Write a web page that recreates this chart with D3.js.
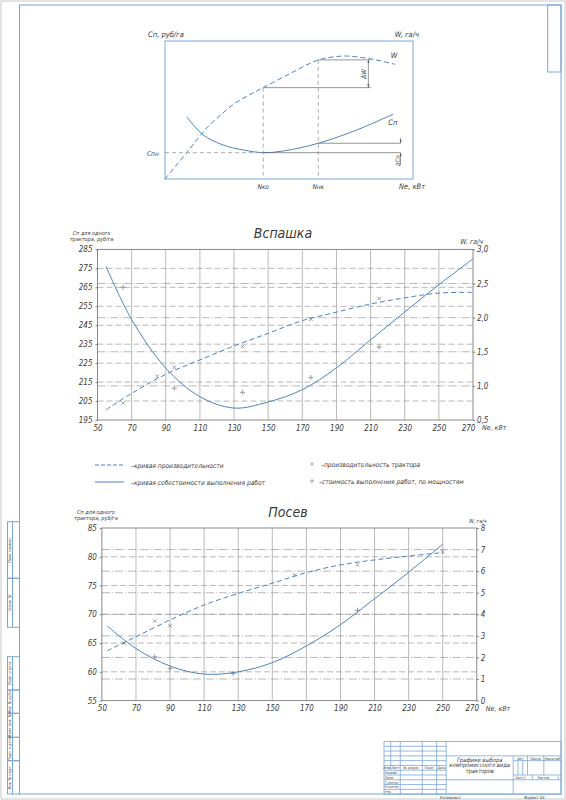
<!DOCTYPE html>
<html>
<head>
<meta charset="utf-8">
<script src="https://cdn.jsdelivr.net/npm/d3@7"></script>
<style>
    body { margin: 0; background: #fff; }
    text { font-family: "DejaVu Sans Condensed", "DejaVu Sans", sans-serif; font-style: italic; fill: #3a3a3a; }
</style>
</head>
<body>
<svg id="sheet" width="566" height="800"></svg>
<script>
// ---- data ----
// schematic (top): abstract units 0..100
const schemeWx = [0, 8.75, 16.8, 22.2, 27.5, 33.5, 39.6, 50.4, 61.8, 67.7, 73.3, 84, 92.7];
const schemeW = [0, 19.1, 37, 46, 54, 60.5, 66.2, 76.4, 86.3, 88.4, 89.1, 86.7, 83.1];
const schemeCx = [8.75, 15.4, 23.5, 31.6, 39.6, 47.7, 61.8, 77.3, 92.1];
const schemeC = [45.1, 31.9, 24.6, 21, 19.1, 20.3, 25.9, 35.5, 47.1];
const schemeNko = 39.6;
const schemeNnk = 61.8;

// Вспашка
const ploughN = [55, 70, 90, 110, 130, 150, 170, 190, 210, 230, 250, 270];
const ploughCost = [276, 248, 222.4, 207.3, 201.3, 204.5, 211, 222.5, 237.3, 252, 266.4, 280];
const ploughW = [0.65, 0.89, 1.17, 1.38, 1.585, 1.77, 1.956, 2.08, 2.2, 2.29, 2.36, 2.37];
const ploughPtsN = [65, 85, 95, 135, 175, 215];
const ploughPtsW = [0.75, 1.14, 1.27, 1.575, 1.976, 2.28];
const ploughCostPtsN = [65, 95, 135, 175, 215];
const ploughCostPts = [265, 211.8, 209.6, 217.4, 233.5];
const ploughCostTicks = [195, 205, 215, 225, 235, 245, 255, 265, 275, 285];
const ploughWTicks = [0.5, 1.0, 1.5, 2.0, 2.5, 3.0];

// Посев
const sowN = [53, 70, 90, 110, 130, 150, 170, 190, 210, 230, 250];
const sowCost = [68, 64.05, 61.0, 59.6, 60.0, 61.6, 64.5, 68.2, 72.7, 77.3, 82.2];
const sowW = [2.31, 2.96, 3.74, 4.43, 4.97, 5.44, 5.93, 6.29, 6.52, 6.70, 6.86];
const sowPtsN = [63, 81, 90, 163, 200, 250];
const sowPtsW = [2.66, 3.69, 3.47, 5.82, 6.29, 6.9];
const sowCostPtsN = [81, 90, 127, 200];
const sowCostPts = [62.6, 60.6, 59.7, 70.7];
const sowCostTicks = [55, 60, 65, 70, 75, 80, 85];
const sowWTicks = [0, 1, 2, 3, 4, 5, 6, 7, 8];

const nTicks = [50, 70, 90, 110, 130, 150, 170, 190, 210, 230, 250, 270];

// ---- styles ----
const frameColor = '#7aa6d6';
const curveColor = '#4f83bd';
const gridColor = '#9a9a9a';

const svg = d3.select('#sheet');

svg.append('defs').append('marker')
    .attr('id', 'arr')
    .attr('viewBox', '0 0 10 10')
    .attr('refX', 10).attr('refY', 5)
    .attr('markerWidth', 5).attr('markerHeight', 5)
    .attr('orient', 'auto-start-reverse')
    .append('path').attr('d', 'M0,2L10,5L0,8Z').attr('fill', '#555');

// sheet frame
svg.append('rect').attr('x', 1).attr('y', 1).attr('width', 564).attr('height', 798)
    .attr('fill', 'none').attr('stroke', '#c9c9c9');
svg.append('rect').attr('x', 19.5).attr('y', 5).attr('width', 541.5).attr('height', 789)
    .attr('fill', 'none').attr('stroke', frameColor);
svg.append('rect').attr('x', 547.7).attr('y', 5).attr('width', 13.3).attr('height', 67)
    .attr('fill', 'none').attr('stroke', frameColor);

// ---- top schematic ----
const sx = d3.scaleLinear().domain([0, 100]).range([165, 413]);
const sy = d3.scaleLinear().domain([0, 100]).range([179, 41]);
const scheme = svg.append('g');

scheme.append('rect')
    .attr('x', sx(0)).attr('y', sy(100))
    .attr('width', sx(100) - sx(0)).attr('height', sy(0) - sy(100))
    .attr('fill', 'none').attr('stroke', frameColor);

const sLine = d3.line().curve(d3.curveCatmullRom);
scheme.append('path')
    .attr('d', sLine(schemeWx.map((v, i) => [sx(v), sy(schemeW[i])])))
    .attr('fill', 'none').attr('stroke', curveColor).attr('stroke-dasharray', '5,3');
scheme.append('path')
    .attr('d', sLine(schemeCx.map((v, i) => [sx(v), sy(schemeC[i])])))
    .attr('fill', 'none').attr('stroke', curveColor);

const nko = schemeNko, nnk = schemeNnk;
const wko = schemeW[schemeWx.indexOf(nko)], wnk = schemeW[schemeWx.indexOf(nnk)];
const cpn = schemeC[schemeCx.indexOf(nko)], cnk = schemeC[schemeCx.indexOf(nnk)];

function seg(x1, y1, x2, y2, dash) {
    return scheme.append('line')
        .attr('x1', sx(x1)).attr('y1', sy(y1)).attr('x2', sx(x2)).attr('y2', sy(y2))
        .attr('stroke', dash ? '#8a8a8a' : '#6a6a6a').attr('stroke-width', 0.7)
        .attr('stroke-dasharray', dash ? '4,3' : null);
}
seg(0, cpn, nko, cpn, true);
seg(nko, wko, nko, 0, true);
seg(nnk, wnk, nnk, 0, true);
seg(nko, wko, 83, wko);
seg(nnk, wnk, 83, wnk);
seg(nko, cpn, 95, cpn);
seg(nnk, cnk, 95, cnk);
seg(82, wko, 82, wnk).attr('marker-start', 'url(#arr)').attr('marker-end', 'url(#arr)');
seg(95, cnk + 4, 95, cnk).attr('marker-end', 'url(#arr)');
seg(95, cpn - 9, 95, cpn).attr('marker-end', 'url(#arr)');

const tfs = 7.5;
scheme.append('text').attr('x', 148).attr('y', 37).attr('font-size', tfs).text('Сп, руб/га');
scheme.append('text').attr('x', 419).attr('y', 37).attr('font-size', tfs).attr('text-anchor', 'end').text('W, га/ч');
scheme.append('text').attr('x', sx(91)).attr('y', sy(88)).attr('font-size', tfs).text('W');
scheme.append('text').attr('x', sx(90)).attr('y', sy(39)).attr('font-size', tfs).text('Сп');
scheme.append('text').attr('x', 147).attr('y', sy(cpn) + 3).attr('font-size', tfs - 1).text('Спн');
scheme.append('text').attr('x', sx(nko)).attr('y', 189).attr('font-size', tfs - 1).attr('text-anchor', 'middle').text('Nко');
scheme.append('text').attr('x', sx(nnk)).attr('y', 189).attr('font-size', tfs - 1).attr('text-anchor', 'middle').text('Nнк');
scheme.append('text').attr('x', 399).attr('y', 189).attr('font-size', tfs).text('Ne, кВт');
scheme.append('text').attr('transform', `translate(${sx(82) - 2},${sy((wko + wnk) / 2)}) rotate(-90)`)
    .attr('font-size', tfs - 1).attr('text-anchor', 'middle').text('ΔW');
scheme.append('text').attr('transform', `translate(${sx(95) - 1},${sy(cpn) + 8}) rotate(-90)`)
    .attr('font-size', tfs - 1.5).attr('text-anchor', 'middle').text('ΔСп');

// ---- charts ----
function drawChart(cfg) {
    const g = svg.append('g');
    const x = d3.scaleLinear().domain([50, 270]).range([cfg.left, cfg.right]);
    const yL = d3.scaleLinear().domain(d3.extent(cfg.costTicks)).range([cfg.bottom, cfg.top]);
    const yR = d3.scaleLinear().domain(d3.extent(cfg.wTicks)).range([cfg.bottom, cfg.top]);

    // vertical grid
    g.selectAll('.vg').data(nTicks.slice(1, -1)).join('line')
        .attr('x1', d => x(d)).attr('x2', d => x(d))
        .attr('y1', cfg.top).attr('y2', cfg.bottom)
        .attr('stroke', '#a8a8a8').attr('stroke-width', 0.8);
    // horizontal grid: dashed for cost, dash-dot for W
    g.selectAll('.hg').data(cfg.costTicks.slice(1, -1)).join('line')
        .attr('x1', cfg.left).attr('x2', cfg.right)
        .attr('y1', d => yL(d)).attr('y2', d => yL(d))
        .attr('stroke', gridColor).attr('stroke-width', 0.7).attr('stroke-dasharray', '6,3');
    g.selectAll('.hw').data(cfg.wTicks.slice(1, -1)).join('line')
        .attr('x1', cfg.left).attr('x2', cfg.right)
        .attr('y1', d => yR(d)).attr('y2', d => yR(d))
        .attr('stroke', gridColor).attr('stroke-width', 0.7).attr('stroke-dasharray', '8,2,1,2');

    g.append('rect')
        .attr('x', cfg.left).attr('y', cfg.top)
        .attr('width', cfg.right - cfg.left).attr('height', cfg.bottom - cfg.top)
        .attr('fill', 'none').attr('stroke', '#7c7c7c').attr('stroke-width', 0.9);

    const axL = g.append('g').attr('transform', `translate(${cfg.left},0)`)
        .call(d3.axisLeft(yL).tickValues(cfg.costTicks).tickSize(2).tickPadding(3));
    const axR = g.append('g').attr('transform', `translate(${cfg.right},0)`)
        .call(d3.axisRight(yR).tickValues(cfg.wTicks).tickSize(2).tickPadding(2)
            .tickFormat(cfg.wFormat));
    const axB = g.append('g').attr('transform', `translate(0,${cfg.bottom})`)
        .call(d3.axisBottom(x).tickValues(nTicks).tickSize(0).tickPadding(5));
    [axL, axR, axB].forEach(a => {
        a.select('.domain').remove();
        a.selectAll('line').attr('stroke', '#7c7c7c');
        a.selectAll('text').attr('font-size', 8).attr('fill', '#555')
            .style('font-family', '"DejaVu Sans Condensed", "DejaVu Sans", sans-serif')
            .style('font-style', 'italic');
    });
    // last x label sits a little left of its tick, as in the drawing
    axB.selectAll('.tick:last-of-type text').attr('dx', -5);

    // curves
    const line = d3.line().curve(d3.curveCatmullRom);
    g.append('path')
        .attr('d', line(cfg.n.map((v, i) => [x(v), yR(cfg.w[i])])))
        .attr('fill', 'none').attr('stroke', curveColor).attr('stroke-width', 1)
        .attr('stroke-dasharray', '5,3');
    g.append('path')
        .attr('d', line(cfg.n.map((v, i) => [x(v), yL(cfg.cost[i])])))
        .attr('fill', 'none').attr('stroke', curveColor).attr('stroke-width', 1);

    // points
    g.selectAll('.pw').data(cfg.ptsN).join('path')
        .attr('transform', (d, i) => `translate(${x(d)},${yR(cfg.ptsW[i])})`)
        .attr('d', d3.symbol(d3.symbolTimes, 10))
        .attr('fill', 'none').attr('stroke', '#777').attr('stroke-width', 0.7);
    g.selectAll('.pc').data(cfg.costPtsN).join('path')
        .attr('transform', (d, i) => `translate(${x(d)},${yL(cfg.costPts[i])})`)
        .attr('d', d3.symbol(d3.symbolPlus, 10))
        .attr('fill', 'none').attr('stroke', '#777').attr('stroke-width', 0.7);

    // labels
    g.append('text').attr('x', cfg.titleX).attr('y', cfg.top - 11)
        .attr('font-size', 14).attr('text-anchor', 'middle').attr('fill', '#222').text(cfg.title);
    g.append('text').attr('x', cfg.left - 6).attr('y', cfg.top - 14).attr('font-size', 5.5)
        .attr('text-anchor', 'middle').text('Сп для одного');
    g.append('text').attr('x', cfg.left - 6).attr('y', cfg.top - 8.5).attr('font-size', 5.5)
        .attr('text-anchor', 'middle').text('трактора, руб/га');
    g.append('text').attr('x', cfg.right + 10).attr('y', cfg.top - 5).attr('font-size', cfg.wLabelSize)
        .attr('text-anchor', 'end').text('W, га/ч');
    g.append('text').attr('x', cfg.right + 9).attr('y', cfg.bottom + 10).attr('font-size', 7)
        .text('Ne, кВт');
}

drawChart({
    left: 97.5, right: 473, top: 249.4, bottom: 420, titleX: 283,
    title: 'Вспашка', wLabelSize: 7,
    costTicks: ploughCostTicks, wTicks: ploughWTicks,
    wFormat: d => d3.format('.1f')(d).replace('.', ','),
    n: ploughN, cost: ploughCost, w: ploughW,
    ptsN: ploughPtsN, ptsW: ploughPtsW, costPtsN: ploughCostPtsN, costPts: ploughCostPts
});

drawChart({
    left: 101.9, right: 476.8, top: 528, bottom: 700.6, titleX: 288,
    title: 'Посев', wLabelSize: 5.5,
    costTicks: sowCostTicks, wTicks: sowWTicks,
    wFormat: d3.format('d'),
    n: sowN, cost: sowCost, w: sowW,
    ptsN: sowPtsN, ptsW: sowPtsW, costPtsN: sowCostPtsN, costPts: sowCostPts
});

// ---- legend ----
const lg = svg.append('g').attr('font-size', 6.6);
lg.append('line').attr('x1', 95).attr('x2', 124).attr('y1', 465).attr('y2', 465)
    .attr('stroke', curveColor).attr('stroke-dasharray', '4,2');
lg.append('text').attr('x', 131).attr('y', 467.5).text('–кривая производительности');
lg.append('line').attr('x1', 95).attr('x2', 124).attr('y1', 482).attr('y2', 482)
    .attr('stroke', curveColor);
lg.append('text').attr('x', 131).attr('y', 484.5).text('–кривая себестоимости выполнения работ');
lg.append('path').attr('transform', 'translate(312,464)').attr('d', d3.symbol(d3.symbolTimes, 8))
    .attr('fill', 'none').attr('stroke', '#888').attr('stroke-width', 0.7);
lg.append('text').attr('x', 321).attr('y', 466.5).text('–производительность трактора');
lg.append('path').attr('transform', 'translate(312,481)').attr('d', d3.symbol(d3.symbolPlus, 8))
    .attr('fill', 'none').attr('stroke', '#888').attr('stroke-width', 0.7);
lg.append('text').attr('x', 319).attr('y', 483.5).text('–стоимость выполнения работ, по мощностям');

// ---- left stamp ----
const stamp = svg.append('g');
const stampRows = [
    [521.7, 578.3, 'Перв. примен.'], [578.3, 627.3, 'Справ. №'],
    [656.7, 690, 'Подп. и дата'], [690, 713.3, 'Инв. № дубл.'], [713.3, 737.3, 'Взам. инв. №'],
    [737.3, 760.7, 'Подп. и дата'], [760.7, 794, 'Инв. № подл.']
];
stampRows.forEach(r => {
    stamp.append('rect').attr('x', 7.5).attr('y', r[0]).attr('width', 12).attr('height', r[1] - r[0])
        .attr('fill', 'none').attr('stroke', frameColor);
    stamp.append('line').attr('x1', 12.5).attr('x2', 12.5).attr('y1', r[0]).attr('y2', r[1])
        .attr('stroke', frameColor);
    stamp.append('text').attr('transform', `translate(11.3,${(r[0] + r[1]) / 2}) rotate(-90)`)
        .attr('font-size', 3.8).attr('text-anchor', 'middle').text(r[2]);
});

// ---- title block (GOST form 1, mm scaled) ----
const k = 0.957;
const mx = v => 384 + v * k;
const my = v => 741.5 + v * k;
const tb = svg.append('g').attr('stroke', frameColor).attr('stroke-width', 0.8);
function tl(x1, y1, x2, y2) {
    tb.append('line').attr('x1', mx(x1)).attr('y1', my(y1)).attr('x2', mx(x2)).attr('y2', my(y2));
}
tb.append('rect').attr('x', mx(0)).attr('y', my(0)).attr('width', 185 * k).attr('height', 55 * k)
    .attr('fill', 'none');
[5, 10, 15, 20, 25, 30, 35, 40, 45, 50].forEach(v => tl(0, v, 65, v));
tl(7, 0, 7, 30); tl(17, 0, 17, 55); tl(40, 0, 40, 55); tl(55, 0, 55, 55); tl(65, 0, 65, 55);
tl(65, 15, 185, 15); tl(65, 40, 185, 40); tl(135, 15, 135, 55);
tl(135, 20, 185, 20); tl(135, 35, 185, 35);
tl(140, 20, 140, 35); tl(145, 20, 145, 35); tl(150, 15, 150, 35); tl(167, 15, 167, 35);
tl(155, 35, 155, 40);

const tt = svg.append('g').attr('font-size', 3.6);
[['Изм.', 3.5], ['Лист', 12], ['№ докум.', 28.5], ['Подп.', 47.5], ['Дата', 60]].forEach(c => {
    tt.append('text').attr('x', mx(c[1])).attr('y', my(29)).attr('text-anchor', 'middle').text(c[0]);
});
['Разраб.', 'Пров.', 'Т.контр.', 'Н.контр.', 'Утв.'].forEach((s, i) => {
    tt.append('text').attr('x', mx(0.8)).attr('y', my(34 + i * 5)).text(s);
});
[['Лит.', 142.5], ['Масса', 158.5], ['Масштаб', 176]].forEach(c => {
    tt.append('text').attr('x', mx(c[1])).attr('y', my(19)).attr('text-anchor', 'middle').text(c[0]);
});
tt.append('text').attr('x', mx(137)).attr('y', my(39)).text('Лист');
tt.append('text').attr('x', mx(146)).attr('y', my(39)).text('1');
tt.append('text').attr('x', mx(160)).attr('y', my(39)).text('Листов');
tt.append('text').attr('x', mx(181)).attr('y', my(39)).text('1');
['Графики выбора', 'компромиссного вида', 'тракторов'].forEach((s, i) => {
    svg.append('text').attr('x', mx(100)).attr('y', my(21 + i * 6)).attr('font-size', 5.8)
        .attr('text-anchor', 'middle').text(s);
});
svg.append('text').attr('x', 440).attr('y', 798.5).attr('font-size', 4).text('Копировал');
svg.append('text').attr('x', 524).attr('y', 798.5).attr('font-size', 4).text('Формат   А4');
</script>
</body>
</html>
